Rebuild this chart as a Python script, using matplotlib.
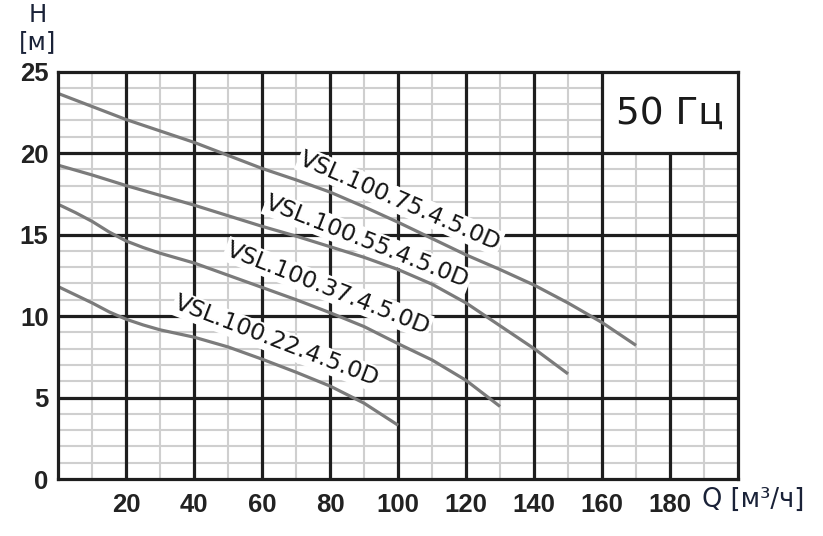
import numpy as np
import matplotlib
matplotlib.use("Agg")
import matplotlib.pyplot as plt

# ---- data ----
q75 = [0, 10, 20, 30, 40, 50, 60, 70, 80, 90, 100, 110, 120, 130, 140, 150, 160, 170]
h75 = [23.65, 22.85, 22.05, 21.35, 20.65, 19.85, 19.05, 18.35, 17.6, 16.7, 15.75, 14.75, 13.75, 12.85, 11.9, 10.8, 9.6, 8.2]

q55 = [0, 10, 20, 30, 40, 50, 60, 70, 80, 90, 100, 110, 120, 130, 140, 150]
h55 = [19.25, 18.65, 18.0, 17.4, 16.8, 16.15, 15.5, 14.9, 14.25, 13.6, 12.85, 11.95, 10.8, 9.4, 8.0, 6.45]

q37 = [0, 5, 10, 15, 20, 25, 30, 40, 50, 60, 70, 80, 90, 100, 110, 120, 130]
h37 = [16.85, 16.35, 15.8, 15.15, 14.6, 14.2, 13.85, 13.25, 12.5, 11.75, 11.0, 10.2, 9.35, 8.3, 7.3, 6.05, 4.45]

q22 = [0, 5, 10, 15, 20, 25, 30, 40, 50, 60, 70, 80, 90, 100]
h22 = [11.8, 11.3, 10.8, 10.25, 9.8, 9.45, 9.15, 8.7, 8.1, 7.35, 6.55, 5.7, 4.65, 3.3]

names = ["VSL.100.75.4.5.0D", "VSL.100.55.4.5.0D", "VSL.100.37.4.5.0D", "VSL.100.22.4.5.0D"]
label_pos = [(100.5, 17.05), (91.0, 14.55), (79.3, 11.7), (64.2, 8.45)]
label_rot = [-23.5, -21.5, -21.5, -21.0]

x_ticks = [20, 40, 60, 80, 100, 120, 140, 160, 180]
y_ticks = [0, 5, 10, 15, 20, 25]
freq_text = "50 Гц"

# ---- figure ----
fig = plt.figure(figsize=(8.23, 5.36), dpi=100)
ax = fig.add_axes([0.0708, 0.1063, 0.8259, 0.7603])
ax.set_xlim(0, 200)
ax.set_ylim(0, 25)

major_c = "#1e1e1e"
minor_c = "#cfcfcf"
major_lw = 2.3
minor_lw = 1.5

box_x, box_y = 160, 20

# minor grid
for x in range(10, 200, 20):
    top = box_y if x > box_x else 25
    ax.vlines(x, 0, top, color=minor_c, lw=minor_lw, zorder=1)
for y in range(1, 25):
    if y % 5 == 0:
        continue
    right = box_x if y > box_y else 200
    ax.hlines(y, 0, right, color=minor_c, lw=minor_lw, zorder=1)
# major grid
for x in x_ticks:
    top = box_y if x > box_x else 25
    ax.vlines(x, 0, top, color=major_c, lw=major_lw, zorder=2)
for y in [5, 10, 15, 20]:
    ax.hlines(y, 0, 200, color=major_c, lw=major_lw, zorder=2)

for s in ax.spines.values():
    s.set_color(major_c)
    s.set_linewidth(major_lw)
    s.set_zorder(6)

ax.text(180, 22.4, freq_text, fontsize=27, ha="center", va="center",
        color="#1a1a1a", family="DejaVu Sans", zorder=5)

# curves
curve_c = "#7b7b7b"
for q, h in [(q75, h75), (q55, h55), (q37, h37), (q22, h22)]:
    ax.plot(q, h, color=curve_c, lw=2.3, solid_capstyle="butt", zorder=4)

for name, (x, y), r in zip(names, label_pos, label_rot):
    ax.text(x, y, name, fontsize=16.8, rotation=r, rotation_mode="anchor",
            ha="center", va="center", color="#141414", family="DejaVu Sans",
            bbox=dict(facecolor="white", edgecolor="none", pad=1.0), zorder=3)

# ticks
ax.set_xticks(x_ticks)
ax.set_xticklabels([str(v) for v in x_ticks])
ax.set_yticks(y_ticks)
ax.set_yticklabels([str(v) for v in y_ticks])
ax.tick_params(length=0)
ax.tick_params(axis="x", pad=10)
ax.tick_params(axis="y", pad=7)
for lab in ax.get_xticklabels() + ax.get_yticklabels():
    lab.set_fontfamily("Liberation Sans")
    lab.set_fontweight("bold")
    lab.set_fontsize(18.5)
    lab.set_color("#222222")

# axis titles
tc = "#1a2238"
fig.text(38 / 823, 1 - 15 / 536, "H", fontsize=17.5, ha="center", va="center", color=tc, family="DejaVu Sans")
fig.text(38 / 823, 1 - 42 / 536, "[м]", fontsize=17.5, ha="center", va="center", color=tc, family="DejaVu Sans")
fig.text(702 / 823, 1 - 500 / 536, "Q [м³/ч]", fontsize=18.5, ha="left", va="center", color=tc, family="DejaVu Sans")

fig.savefig("out.png", dpi=100)
